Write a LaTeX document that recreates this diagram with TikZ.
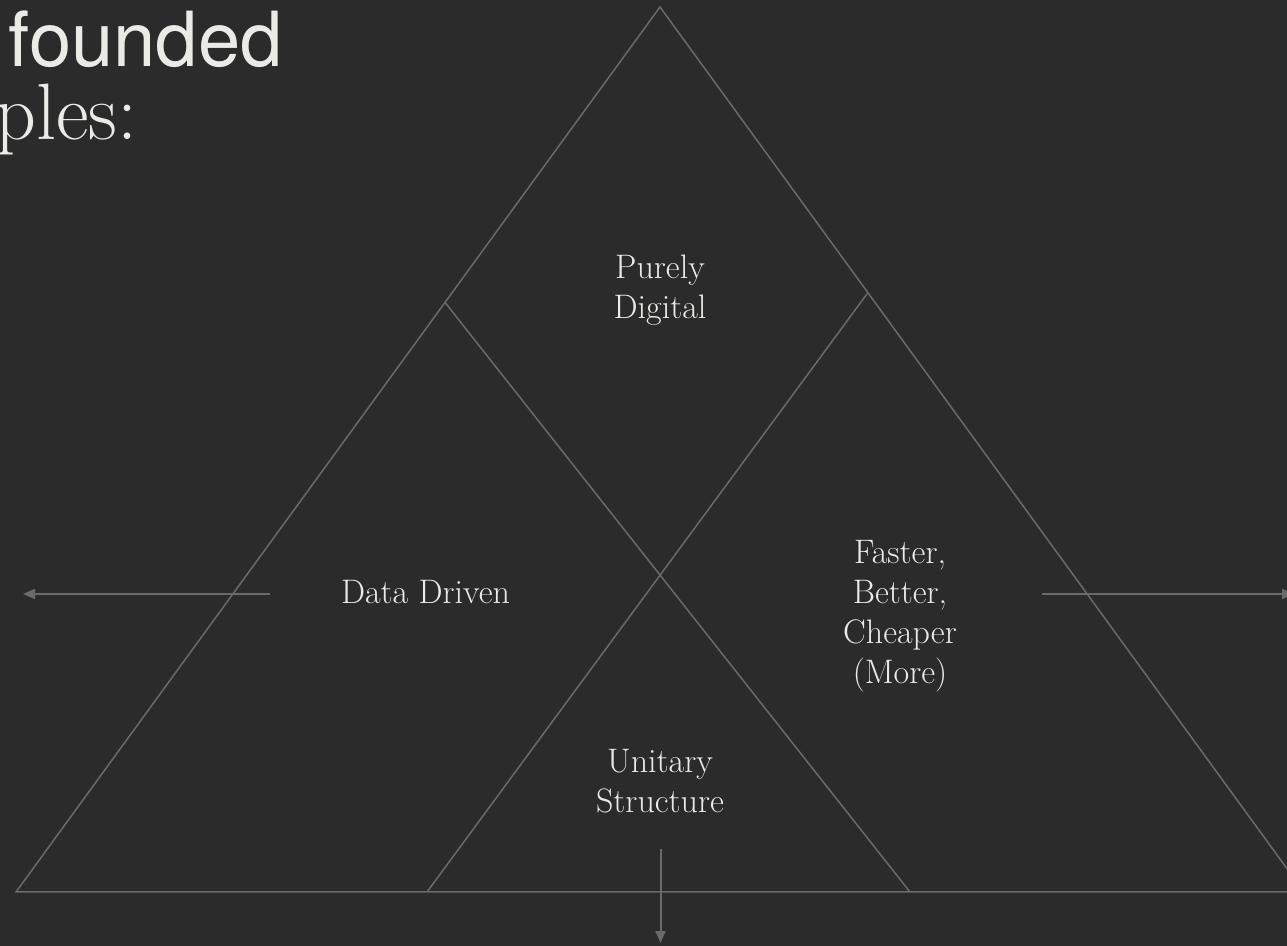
\documentclass[tikz,border=0pt]{standalone}
\usepackage{fontspec}
\usepackage{tikz}
\usetikzlibrary{arrows.meta}
\newfontfamily\headsans{TeX Gyre Heros}
\definecolor{cBg}{HTML}{2B2B2B}
\definecolor{cRim}{HTML}{6A6A6A}
\definecolor{cInk}{HTML}{EBEAE6}

\begin{document}
\begin{tikzpicture}[
    x=0.5pt, y=-0.5pt,
    rim/.style={draw=cRim, line width=0.75pt},
    zone/.style={text=cInk, align=center, inner sep=0pt,
                 font=\fontsize{17}{20}\selectfont},
    head/.style={text=cInk, anchor=base east, inner sep=0pt},
    flow/.style={-{Triangle[length=6pt,width=5pt]}, line width=1pt, draw=cRim},
  ]
  \fill[cBg] (0,0) rectangle (1287,946);
  \useasboundingbox (0,0) rectangle (1287,946);
  % heading, running in from the left
  \node[head, font=\headsans\fontsize{38}{40}\selectfont] (ttl) at (283,66.7) {founded};
  \node[head, font=\fontsize{40}{44}\selectfont] (ttlb) at (138,140) {ples:};
  % outer triangle
  \coordinate (top) at (660,7);
  \coordinate (bl) at (16,892);
  \coordinate (br) at (1304,892);
  \draw[rim] (top) -- (bl) -- (br) -- cycle;
  % the two crossing lines
  \coordinate (lmid) at (445.5,303);
  \coordinate (rmid) at (868,292.5);
  \coordinate (lfoot) at (427,892);
  \coordinate (rfoot) at (910,892);
  \draw[rim] (lmid) -- (rfoot);
  \draw[rim] (rmid) -- (lfoot);
  % regions
  \node[zone] (pd) at (660,290) {Purely\\Digital};
  \node[zone, anchor=base] (dd) at (425.5,604) {Data Driven};
  \node[zone] (fbc) at (900,616) {Faster,\\Better,\\Cheaper\\(More)};
  \node[zone] (us) at (660,781) {Unitary\\Structure};
  % outward arrows
  \coordinate (wtail) at (270,594);
  \coordinate (wtip) at (23,594);
  \coordinate (etail) at (1042,594);
  \coordinate (etip) at (1294,594);
  \coordinate (stail) at (660.5,849);
  \coordinate (stip) at (660.5,943);
  \draw[flow] (wtail) -- (wtip);
  \draw[flow] (etail) -- (etip);
  \draw[flow] (stail) -- (stip);
\end{tikzpicture}
\end{document}
